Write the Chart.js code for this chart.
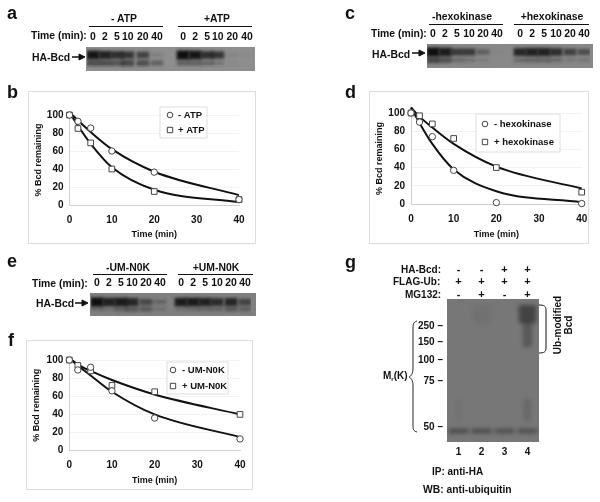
<!DOCTYPE html>
<html>
<head>
<meta charset="utf-8">
<script src="https://cdn.jsdelivr.net/npm/chart.js@4"></script>
<style>
    html, body { margin: 0; padding: 0; background: #fff; }
    #page { position: relative; width: 600px; height: 502px; overflow: hidden; filter: blur(0.35px);
            font-family: "Liberation Sans", Arial, sans-serif; font-weight: bold; color: #111; }
    .txt { position: absolute; white-space: nowrap; transform: translateY(-50%); }
    .center { transform: translate(-50%, -50%); }
    .rot { transform: translate(-50%, -50%) rotate(-90deg); }
    .box { position: absolute; }
    sub { font-size: 60%; vertical-align: -2px; line-height: 0; }
    svg { position: absolute; left: 0; top: 0; }
</style>
</head>
<body>
<div id="page">
    <svg width="600" height="502" fill="none" stroke="#111">
        <path d="M72 57H82" stroke-width="1.5"/><path d="M85 57L79 54V60Z" fill="#111"/>
        <path d="M412 53H422" stroke-width="1.5"/><path d="M425 53L419 50V56Z" fill="#111"/>
        <path d="M75 303H85" stroke-width="1.5"/><path d="M88 303L82 300V306Z" fill="#111"/>
        <path d="M417 321C413 322 413 325 413 330V368C413 374 411 376 409 377C411 378 413 380 413 386V424C413 429 413 431 417 432" stroke-width="0.9"/>
        <path d="M539 305C544 305 546 306 546 310V348C546 352 544 353 539 353" stroke-width="1"/>
    </svg>
</div>
<script>
// ---- time course plots ----
const timeTicks = [0, 10, 20, 30, 40];
const times = [0, 2, 5, 10, 20, 40];

const minusAtp = [100, 93, 85.5, 60, 36.5, 6];
const plusAtp = [100, 85, 69, 40, 15, 6];
const minusAtpFit = [103, 94, 81, 62, 37, 11];
const plusAtpFit = [103, 88, 68, 42, 17, 3];

const minusHexo = [100, 90, 74, 37, 1.5, 0.5];
const plusHexo = [100, 97, 88, 72, 40, 13];
const minusHexoFit = [106, 89, 66, 38, 14, 2];
const plusHexoFit = [106, 96, 84, 66, 41, 17];

const minusUm = [100, 89, 92, 66, 36, 13];
const plusUm = [100, 94, 88, 72, 65, 40];
const minusUmFit = [102, 94, 83, 65, 40, 15];
const plusUmFit = [102, 95, 88, 78, 62, 40];

// ---- gels: where each lane sits along the gel and how dark its bands are ----
const laneLabels = ["0", "2", "5", "10", "20", "40", "0", "2", "5", "10", "20", "40"];

const gelALanes = [0, 1, 2, 2.9, 4.15, 5.33, 7.5, 8.5, 9.5, 10.4, 11.6, 12.83];
const gelAUpper = [0.95, 0.85, 0.75, 0.7, 0.6, 0.12, 1, 0.95, 0.75, 0.7, 0.08, 0.03];
const gelALower = [0.5, 0.5, 0.45, 0.55, 0.5, 0.35, 0.35, 0.35, 0.3, 0.2, 0.05, 0];
const gelCLanes = [0, 1, 2, 3, 4.17, 5.33, 7.25, 8.25, 9.25, 10.25, 11.42, 12.58];
const gelCUpper = [1, 0.9, 0.65, 0.65, 0.35, 0.03, 0.8, 0.85, 0.85, 0.75, 0.6, 0.5];
const gelCLower = [0.55, 0.45, 0.25, 0.18, 0.1, 0, 0.25, 0.3, 0.3, 0.25, 0.12, 0.15];
const gelELanes = [0, 1, 2, 2.92, 4.08, 5.25, 7, 8, 9, 10, 11.17, 12.33];
const gelEUpper = [1, 0.85, 0.9, 0.8, 0.5, 0.25, 0.9, 0.9, 0.85, 0.75, 0.8, 0.55];
const gelELower = [0.2, 0.15, 0.3, 0.35, 0.35, 0.15, 0.15, 0.2, 0.25, 0.25, 0.35, 0.3];

// ---- western blot g ----
const blotLanes = ["1", "2", "3", "4"];
const haBcd = ["-", "-", "+", "+"];
const flagUb = ["+", "+", "+", "+"];
const mg132 = ["-", "+", "-", "+"];
const markerLabels = ["250", "150", "100", "75", "50"];
const markerDistance = [27, 43, 61, 82, 128];
const igBand = [0.5, 0.5, 0.45, 0.45];
const topSmear = [0, 0.06, 0, 0.5];
const lowerSmear = [0, 0, 0, 0.3];
const faintSmear = [0.03, 0, 0, 0.15];

Chart.defaults.font.family = '"Liberation Sans", Arial, sans-serif';
Chart.defaults.font.weight = "bold";
Chart.defaults.color = "#111";

const page = document.getElementById("page");

function label(text, x, y, size, cls) {
    const el = document.createElement("div");
    el.className = "txt " + (cls || "");
    el.innerHTML = text;
    el.style.left = x + "px";
    el.style.top = y + "px";
    el.style.fontSize = size + "px";
    page.appendChild(el);
}

function rule(x1, x2, y) {
    const el = document.createElement("div");
    el.className = "box";
    el.style.cssText += `left:${x1}px;top:${y}px;width:${x2 - x1}px;height:1.4px;background:#111`;
    page.appendChild(el);
}

function addCanvas(x, y, w, h) {
    const wrap = document.createElement("div");
    wrap.className = "box";
    wrap.style.cssText += `left:${x}px;top:${y}px;width:${w}px;height:${h}px`;
    const canvas = document.createElement("canvas");
    wrap.appendChild(canvas);
    page.appendChild(wrap);
    return { wrap, ctx: canvas.getContext("2d") };
}

// Soft edges on the gel bands
const blurBands = {
    id: "blurBands",
    beforeDatasetsDraw(chart, args, opts) {
        chart.ctx.save();
        chart.ctx.filter = `blur(${opts.radius}px)`;
    },
    afterDatasetsDraw(chart) {
        chart.ctx.restore();
    },
};

// Boxed key inside the plot
const keyBox = {
    id: "keyBox",
    afterDraw(chart, args, o) {
        const c = chart.ctx;
        c.save();
        c.fillStyle = "#fff";
        c.strokeStyle = "#ddd";
        c.fillRect(o.x, o.y, o.w, o.h);
        c.strokeRect(o.x, o.y, o.w, o.h);
        c.font = `bold ${o.size}px "Liberation Sans", Arial, sans-serif`;
        c.textBaseline = "middle";
        o.rows.forEach((text, i) => {
            const py = o.y + o.first + i * o.gap;
            const px = o.x + o.markAt;
            c.strokeStyle = "#444";
            c.lineWidth = 1;
            c.beginPath();
            if (i === 0) c.arc(px, py, 2.8, 0, Math.PI * 2);
            else c.rect(px - 2.7, py - 2.7, 5.4, 5.4);
            c.stroke();
            c.fillStyle = "#111";
            c.fillText(text, o.x + o.textAt, py);
        });
        c.restore();
    },
};

function points(ys) {
    return times.map((t, i) => ({ x: t, y: ys[i] }));
}

function markerSet(name, ys, style) {
    return {
        label: name,
        data: points(ys),
        order: 1,
        clip: false,
        showLine: false,
        pointStyle: style,
        pointRadius: style === "rect" ? 4 : 3.2,
        pointBackgroundColor: "#fff",
        pointBorderColor: "#444",
        pointBorderWidth: 1,
    };
}

function fitSet(ys) {
    return {
        label: "fit",
        data: points(ys),
        order: 2,
        clip: false,
        showLine: true,
        cubicInterpolationMode: "monotone",
        borderColor: "#111",
        borderWidth: 2,
        pointRadius: 0,
    };
}

function drawPlot(p) {
    const { wrap, ctx } = addCanvas(p.x, p.y, p.w, p.h);
    wrap.style.outline = "1px solid #dcdcdc";
    new Chart(ctx, {
        type: "scatter",
        plugins: [keyBox],
        data: {
            datasets: [
                markerSet(p.names[0], p.circles, "circle"),
                markerSet(p.names[1], p.squares, "rect"),
                fitSet(p.circleFit),
                fitSet(p.squareFit),
            ],
        },
        options: {
            responsive: true,
            maintainAspectRatio: false,
            animation: false,
            layout: { padding: { top: p.top, right: p.w - p.plotRight, left: 0, bottom: 0 } },
            plugins: {
                legend: { display: false },
                tooltip: { enabled: false },
                keyBox: p.key,
            },
            scales: {
                x: {
                    type: "linear",
                    min: 0,
                    max: 40,
                    afterBuildTicks: (s) => { s.ticks = timeTicks.map((v) => ({ value: v })); },
                    afterFit: (s) => { s.height = p.h - p.plotBottom; },
                    ticks: { font: { size: 10 }, padding: 0, color: "#111" },
                    grid: { display: false, tickLength: 9 },
                    border: { color: "#d0d0d0" },
                    title: { display: true, text: "Time (min)", font: { size: 9 }, color: "#111", padding: { top: 5, bottom: 3 } },
                },
                y: {
                    min: 0,
                    max: 100,
                    afterFit: (s) => { s.width = p.plotLeft; },
                    ticks: { stepSize: 20, font: { size: 10 }, padding: 6, color: "#111" },
                    grid: { color: "rgba(0, 0, 0, 0.05)", drawTicks: false },
                    border: { color: "#d0d0d0" },
                    title: { display: true, text: "% Bcd remaining", font: { size: 9 }, color: "#111", padding: { top: 4, bottom: 0 } },
                },
            },
        },
    });
}

function drawGel(g) {
    const bg = document.createElement("div");
    bg.className = "box";
    bg.style.cssText += `left:${g.x}px;top:${g.y}px;width:${g.w}px;height:${g.h}px;background:${g.color}`;
    page.appendChild(bg);

    const last = g.lanes[g.lanes.length - 1];
    const { ctx } = addCanvas(g.firstLane - 6, g.y - 18, (last + 1) * 12, g.h + 18);
    // darker bands run a little thicker
    const band = (darkness, mid) => ({
        data: g.lanes.map((lane, i) => ({
            x: lane,
            y: [mid - 1.2 - 3 * darkness[i], mid + 1.2 + 3 * darkness[i]],
        })),
        backgroundColor: darkness.map((d) => `rgba(15, 15, 15, ${d})`),
        barThickness: 12,
        grouped: false,
    });
    new Chart(ctx, {
        type: "bar",
        plugins: [blurBands],
        data: {
            datasets: [band(g.lower, g.lowerAt), band(g.upper, g.upperAt)],
        },
        options: {
            responsive: true,
            maintainAspectRatio: false,
            animation: false,
            plugins: { legend: { display: false }, tooltip: { enabled: false }, blurBands: { radius: 1.5 } },
            scales: {
                x: {
                    type: "linear",
                    position: "top",
                    offset: false,
                    min: -0.5,
                    max: last + 0.5,
                    afterBuildTicks: (s) => { s.ticks = g.lanes.map((v) => ({ value: v })); },
                    afterFit: (s) => { s.height = 18; },
                    ticks: {
                        autoSkip: false,
                        maxRotation: 0,
                        font: { size: 10.4 },
                        padding: 0,
                        color: "#111",
                        callback: (v, i) => laneLabels[i],
                    },
                    grid: { display: false, tickLength: 4 },
                    border: { display: false },
                },
                y: { display: false, reverse: true, min: 0, max: g.h },
            },
        },
    });
}

function drawBlot() {
    const x = 447, y = 299, w = 92, h = 143;
    const bg = document.createElement("div");
    bg.className = "box";
    bg.style.cssText += `left:${x}px;top:${y}px;width:${w}px;height:${h}px;background:#777`;
    page.appendChild(bg);

    const { ctx } = addCanvas(x - 32, y - 40, w + 32, h + 60);
    const smear = (darkness, y1, y2, pct) => ({
        data: blotLanes.map(() => [y1, y2]),
        backgroundColor: darkness.map((d) => `rgba(15, 15, 15, ${d})`),
        categoryPercentage: 1,
        barPercentage: pct,
    });
    new Chart(ctx, {
        type: "bar",
        plugins: [blurBands],
        data: {
            labels: blotLanes,
            datasets: [
                smear(igBand, 130, 134, 0.85),
                smear(topSmear, 6, 24, 0.75),
                smear(lowerSmear, 22, 48, 0.4),
                smear(faintSmear, 100, 122, 0.3),
            ],
        },
        options: {
            responsive: true,
            maintainAspectRatio: false,
            animation: false,
            plugins: { legend: { display: false }, tooltip: { enabled: false }, blurBands: { radius: 2.2 } },
            scales: {
                x: {
                    stacked: true,
                    afterFit: (s) => { s.height = 20; },
                    ticks: { font: { size: 10 }, padding: 4, color: "#111" },
                    grid: { display: false, drawTicks: false },
                    border: { display: false },
                },
                xTop: {
                    type: "category",
                    axis: "x",
                    position: "top",
                    labels: blotLanes,
                    afterFit: (s) => { s.height = 40; },
                    ticks: {
                        font: { size: 11, lineHeight: 1.13 },
                        padding: -2,
                        color: "#111",
                        callback: (v, i) => [haBcd[i], flagUb[i], mg132[i]],
                    },
                    grid: { display: false, drawTicks: false },
                    border: { display: false },
                },
                y: {
                    reverse: true,
                    min: 0,
                    max: h,
                    afterFit: (s) => { s.width = 32; },
                    afterBuildTicks: (s) => { s.ticks = markerDistance.map((v) => ({ value: v })); },
                    ticks: {
                        font: { size: 10 },
                        padding: 4,
                        color: "#111",
                        callback: (v) => markerLabels[markerDistance.indexOf(v)] + " \u2013",
                    },
                    grid: { display: false, drawTicks: false },
                    border: { display: false },
                },
            },
        },
    });
}

// panel letters
[["a", 7, 13], ["b", 7, 92], ["c", 345, 13], ["d", 345, 92], ["e", 7, 261], ["f", 8, 340], ["g", 345, 262]]
    .forEach(([t, x, y]) => label(t, x, y, 18));

// gel headings
label("- ATP", 124, 18, 10.4, "center");
label("+ATP", 217, 18, 10.4, "center");
rule(89, 163, 26);
rule(178, 252, 26);
label("Time (min):", 31, 35, 10.4);
label("HA-Bcd", 32, 57, 10.4);

label("-hexokinase", 462, 16, 10.4, "center");
label("+hexokinase", 552, 16, 10.4, "center");
rule(429, 503, 24);
rule(514, 589, 24);
label("Time (min):", 371, 33, 10.4);
label("HA-Bcd", 372, 54, 10.4);

label("-UM-N0K", 128, 267, 10.4, "center");
label("+UM-N0K", 216, 267, 10.4, "center");
rule(93, 167, 274);
rule(178, 253, 274);
label("Time (min):", 32, 283, 10.4);
label("HA-Bcd", 36, 303, 10.4);

drawGel({ x: 86, y: 47, w: 169, h: 24, color: "#8e8e8e", firstLane: 93, lanes: gelALanes, upper: gelAUpper, lower: gelALower, upperAt: 8, lowerAt: 16 });
drawGel({ x: 427, y: 44, w: 166, h: 24, color: "#888", firstLane: 433, lanes: gelCLanes, upper: gelCUpper, lower: gelCLower, upperAt: 8, lowerAt: 16 });
drawGel({ x: 90, y: 293, w: 166, h: 23, color: "#808080", firstLane: 97, lanes: gelELanes, upper: gelEUpper, lower: gelELower, upperAt: 9, lowerAt: 16 });

drawPlot({
    x: 29, y: 92, w: 226, h: 151, plotLeft: 40.5, plotRight: 210, top: 23, plotBottom: 113,
    names: ["- ATP", "+ ATP"], circles: minusAtp, squares: plusAtp, circleFit: minusAtpFit, squareFit: plusAtpFit,
    key: { x: 131, y: 15, w: 47, h: 31, first: 8, gap: 15, markAt: 10, textAt: 18, size: 9.5, rows: ["- ATP", "+ ATP"] },
});
drawPlot({
    x: 370, y: 92, w: 218, h: 151, plotLeft: 41, plotRight: 211.7, top: 21, plotBottom: 112,
    names: ["- hexokinase", "+ hexokinase"], circles: minusHexo, squares: plusHexo, circleFit: minusHexoFit, squareFit: plusHexoFit,
    key: { x: 106, y: 22, w: 84, h: 38, first: 10, gap: 18, markAt: 9, textAt: 18, size: 9.5, rows: ["- hexokinase", "+ hexokinase"] },
});
drawPlot({
    x: 27, y: 341, w: 225, h: 148, plotLeft: 42.3, plotRight: 213, top: 19, plotBottom: 109.7,
    names: ["- UM-N0K", "+ UM-N0K"], circles: minusUm, squares: plusUm, circleFit: minusUmFit, squareFit: plusUmFit,
    key: { x: 140, y: 21, w: 61, h: 32, first: 8, gap: 16, markAt: 6, textAt: 15, size: 9.5, rows: ["- UM-N0K", "+ UM-N0K"] },
});

drawBlot();

label("HA-Bcd:", 401, 269, 10);
label("FLAG-Ub:", 393, 281, 10);
label("MG132:", 405, 294, 10);
label("M<sub>r</sub>(K)", 383, 375, 10);
label("Ub-modified", 557, 325, 10, "rot");
label("Bcd", 568, 325, 10, "rot");
label("IP: anti-HA", 432, 471, 10);
label("WB: anti-ubiquitin", 423, 489, 10.3);
</script>
</body>
</html>
